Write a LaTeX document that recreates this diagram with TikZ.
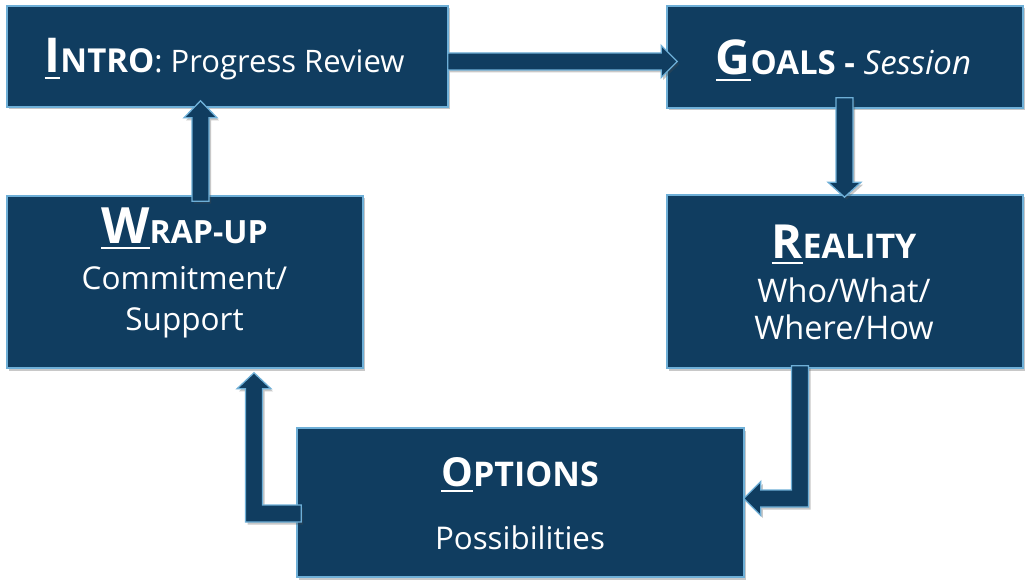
\documentclass[tikz,border=0pt]{standalone}
\usepackage{fontspec}
\setmainfont{Open Sans}
\usetikzlibrary{calc,shadows}
\definecolor{navy}{RGB}{16,61,96}
\definecolor{edgeblue}{RGB}{110,175,215}
\newcommand\bigfirst[2]{\setbox0=\hbox{\fontsize{#1}{#1}\selectfont\bfseries #2}\rlap{\rule[-6pt]{\wd0}{2.4pt}}\box0}
\newcommand\scpart[2]{{\fontsize{#1}{#1}\selectfont\bfseries #2}}
\newcommand\fsz[1]{\fontsize{#1}{#1}\selectfont}
\begin{document}
\begin{tikzpicture}[x=1pt,y=-1pt,
  shade/.style={drop shadow={shadow xshift=2pt,shadow yshift=-2.5pt,opacity=0.3,fill=black!70}},
  box/.style={draw=edgeblue,line width=1.6pt,fill=navy,rectangle,inner sep=0pt,shade},
  lbl/.style={text=white,anchor=base,inner sep=0pt},
  blk/.style={draw=edgeblue,line width=1.3pt,fill=navy,line join=miter,shade}]
\fill[white] (0,0) rectangle (1030,588);
% boxes
\node[box,minimum width=441,minimum height=101] (intro) at (227.5,56.5) {};
\node[box,minimum width=356,minimum height=102] (goals) at (845,57) {};
\node[box,minimum width=356,minimum height=172] (wrap) at (185,282) {};
\node[box,minimum width=356,minimum height=173] (reality) at (845,281.5) {};
\node[box,minimum width=447,minimum height=149] (options) at (520.5,502.5) {};
% texts
\node[lbl] (introT) at (224.5,73) {\bigfirst{48}{I}\scpart{33}{NTRO}\fsz{31}: Progress Review};
\node[lbl] (goalsT) at (843.5,75) {\bigfirst{48}{G}\scpart{33}{OALS}\fsz{33} \textbf{-} \textit{Session}};
\node[lbl] (wrapT1) at (184.5,243) {\bigfirst{50}{W}\scpart{32}{RAP-UP}};
\node[lbl] (wrapT2) at (184.5,289) {\fsz{31.5}Commitment/};
\node[lbl] (wrapT3) at (184.5,330) {\fsz{31.5}Support};
\node[lbl] (realT1) at (844,258) {\bigfirst{47}{R}\scpart{34}{EALITY}};
\node[lbl] (realT2) at (844,302) {\fsz{32.5}Who/What/};
\node[lbl] (realT3) at (844,339) {\fsz{32.5}Where/How};
\node[lbl] (optT1) at (520,486) {\bigfirst{40}{O}\scpart{34}{PTIONS}};
\node[lbl] (optT2) at (520,549) {\fsz{31.3}Possibilities};
% arrow end points
\coordinate (a1s) at ($(intro.east)+(-1,5)$);
\coordinate (a1t) at ($(goals.west)+(11,4.5)$);
\coordinate (a2s) at ($(goals.south)+(-0.5,-11)$);
\coordinate (a2t) at ($(reality.north)+(-0.5,3)$);
\coordinate (a3s) at ($(reality.south)+(-45,-3)$);
\coordinate (a3t) at ($(options.east)+(-1,-4)$);
\coordinate (a4s) at ($(options.west)+(5,11)$);
\coordinate (a4t) at ($(wrap.south)+(69,4)$);
\coordinate (a5s) at ($(wrap.north)+(15.5,6)$);
\coordinate (a5t) at ($(intro.south)+(-27,-7)$);
% intro -> goals
\path[blk] let \p1=(a1s), \p2=(a1t) in
  (\x1,\y2+8.5pt) -- (\x2-16pt,\y2+8.5pt) -- (\x2-16pt,\y2+16pt) -- (\x2,\y2)
  -- (\x2-16pt,\y2-16pt) -- (\x2-16pt,\y2-8.5pt) -- (\x1,\y2-8.5pt) -- cycle;
% goals -> reality
\path[blk] let \p1=(a2s), \p2=(a2t) in
  (\x2-8.5pt,\y1) -- (\x2-8.5pt,\y2+15pt) -- (\x2-16.5pt,\y2+15pt) -- (\x2,\y2)
  -- (\x2+16.5pt,\y2+15pt) -- (\x2+8.5pt,\y2+15pt) -- (\x2+8.5pt,\y1) -- cycle;
% reality -> options
\path[blk] let \p1=(a3s), \p2=(a3t) in
  (\x1-8.5pt,\y1) -- (\x1+8.5pt,\y1) -- (\x1+8.5pt,\y2-8.5pt) -- (\x2+17pt,\y2-8.5pt)
  -- (\x2+17pt,\y2-17pt) -- (\x2,\y2) -- (\x2+17pt,\y2+17pt) -- (\x2+17pt,\y2+8.5pt)
  -- (\x1-8.5pt,\y2+8.5pt) -- cycle;
% options -> wrap-up
\path[blk] let \p1=(a4s), \p2=(a4t) in
  (\x1,\y1+8.5pt) -- (\x1,\y1-8.5pt) -- (\x2-8.5pt,\y1-8.5pt) -- (\x2-8.5pt,\y2-16pt)
  -- (\x2-17pt,\y2-16pt) -- (\x2,\y2) -- (\x2+17pt,\y2-16pt) -- (\x2+8.5pt,\y2-16pt)
  -- (\x2+8.5pt,\y1+8.5pt) -- cycle;
% wrap-up -> intro
\path[blk] let \p1=(a5s), \p2=(a5t) in
  (\x2-8.5pt,\y1) -- (\x2-8.5pt,\y2-17pt) -- (\x2-16.5pt,\y2-17pt) -- (\x2,\y2)
  -- (\x2+16.5pt,\y2-17pt) -- (\x2+8.5pt,\y2-17pt) -- (\x2+8.5pt,\y1) -- cycle;
\end{tikzpicture}
\end{document}
